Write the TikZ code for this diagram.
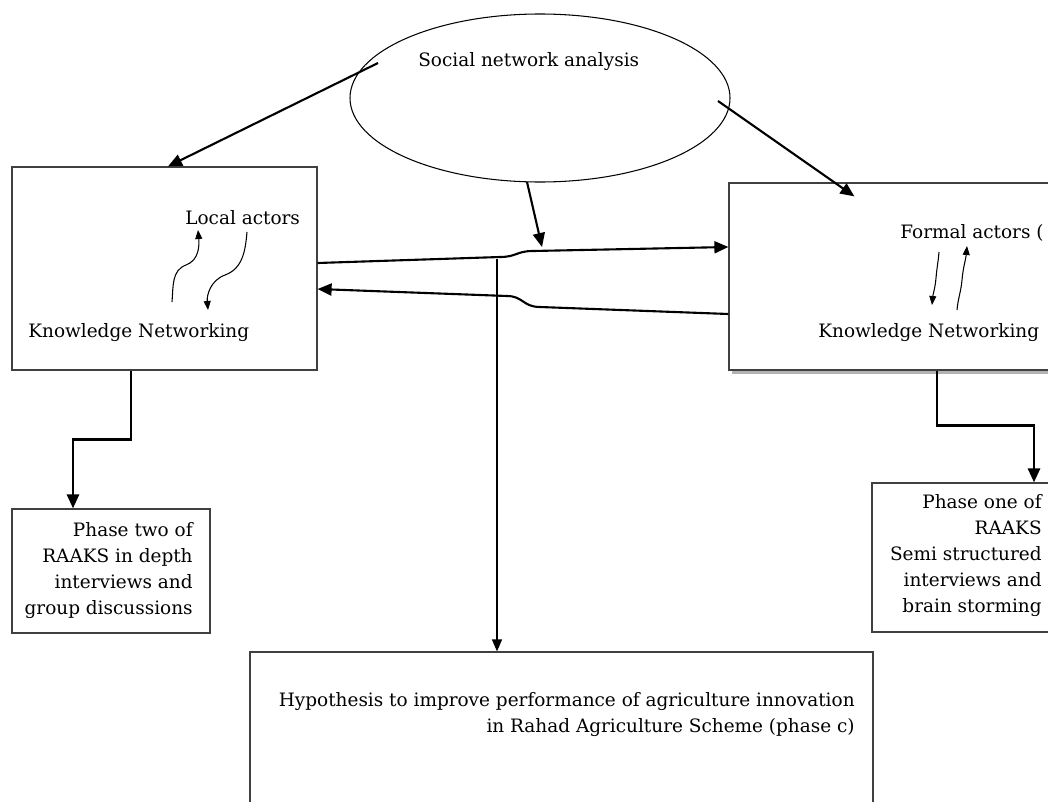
\documentclass[tikz,border=0pt]{standalone}
\usepackage{fontspec}
\setmainfont{DejaVu Serif}
\usetikzlibrary{positioning, arrows.meta, shadows, shapes.geometric}
\tikzset{
box/.style={draw=black!75, line width=0.7pt, rectangle, inner sep=0pt, fill=white},
txt/.style={inner sep=0pt, font=\fontsize{10.5}{14.8}\selectfont},
link/.style={line width=1.2pt, -{Triangle[length=2.8mm,width=2.4mm]}},
wiggle/.style={line width=0.6pt, -{Triangle[length=1.8mm,width=1.4mm]}},
}

\begin{document}
\begin{tikzpicture}
    \useasboundingbox (0,0) rectangle (20.96,-16.02);
    \clip (0,0) rectangle (20.96,-16.02);

    %ellipse at the top
    \node[draw, ellipse, line width=0.6pt, minimum width=7.6cm, minimum height=3.36cm] (sna) at (10.8,-1.96) { };
    \node[txt, anchor=west] (snatext) at (8.36,-1.24) {Social network analysis};

    %boxes
    \node[box, minimum width=6.10cm, minimum height=4.06cm] (local) at (3.29,-5.37) { };
    \node[box, minimum width=7.32cm, minimum height=3.74cm,
          drop shadow={shadow xshift=0.05cm, shadow yshift=-0.07cm, fill=gray!60, opacity=1}] (formal) at (18.24,-5.53) { };
    \node[box, minimum width=3.96cm, minimum height=2.48cm] (phasetwo) at (2.22,-11.42) { };
    \node[box, minimum width=4.46cm, minimum height=2.98cm] (phaseone) at (19.67,-11.15) { };
    \node[box, minimum width=12.46cm, minimum height=3.36cm] (hyp) at (11.23,-14.72) { };

    %texts
    \node[txt, anchor=west] (localtext) at (3.70,-4.36) {Local actors};
    \node[txt, anchor=west] (localkn) at (0.56,-6.66) {Knowledge Networking};
    \node[txt, anchor=west] (formaltext) at (18.0,-4.66) {Formal actors (};
    \node[txt, anchor=west] (formalkn) at (16.36,-6.66) {Knowledge Networking};
    \node[txt, anchor=east, align=right] (twotext) at (3.86,-11.42)
        {Phase two of\\RAAKS in depth\\interviews and\\group discussions};
    \node[txt, anchor=east, align=right] (onetext) at (20.84,-11.12)
        {Phase one of\\RAAKS\\Semi structured\\interviews and\\brain storming};
    \node[txt, anchor=east, align=right] (hyptext) at (17.1,-14.30)
        {Hypothesis to improve performance of agriculture innovation\\in Rahad Agriculture Scheme (phase c)};

    %free ends
    \coordinate (snaW) at (7.56,-1.26);
    \coordinate (snaE) at (14.36,-2.02);
    \coordinate (snaS) at (10.54,-3.64);
    \coordinate (hit) at (10.84,-4.94);
    \coordinate (split) at (9.94,-5.17);

    %arrows from the ellipse
    \draw[link] (snaW)--([xshift=0.07cm]local.north);
    \draw[link] (snaE)--([xshift=2.52cm,yshift=-0.28cm]formal.north west);
    \draw[link] (snaS)--(hit);

    %lines between the boxes
    \draw[link] ([yshift=0.11cm]local.east) -- (10.0,-5.14)
        .. controls (10.33,-5.14) and (10.33,-5.02) .. (10.66,-5.02)
        -- ([yshift=0.59cm]formal.west);
    \draw[link] ([yshift=-0.75cm]formal.west) -- (10.80,-6.14)
        .. controls (10.46,-6.14) and (10.46,-5.92) .. (10.14,-5.92)
        -- ([yshift=-0.41cm]local.east);

    %down to the hypothesis
    \draw[line width=0.8pt, -{Triangle[length=2.4mm,width=2mm]}] (split)--(split |- hyp.north);

    %down to the phases
    \draw[link, line width=1.6pt] ([xshift=-0.67cm]local.south) -- ++(0,-1.38) -| ([xshift=-0.76cm]phasetwo.north);
    \draw[link, line width=1.6pt] ([xshift=0.5cm]formal.south) -- ++(0,-1.10) -| ([xshift=1.01cm]phaseone.north);

    %small arrows in the boxes
    \draw[wiggle] (3.44,-6.04) to[out=85,in=200] (3.72,-5.30) to[out=20,in=-85] (3.96,-4.60);
    \draw[wiggle] (4.94,-4.64) to[out=-95,in=20] (4.50,-5.50) to[out=200,in=95] (4.16,-6.20);
    \draw[wiggle] (18.78,-5.04) to[out=-95,in=85] (18.72,-5.56) to[out=-95,in=85] (18.64,-6.10);
    \draw[wiggle] (19.14,-6.20) to[out=85,in=-95] (19.24,-5.60) to[out=85,in=-95] (19.34,-4.92);

\end{tikzpicture}
\end{document}
